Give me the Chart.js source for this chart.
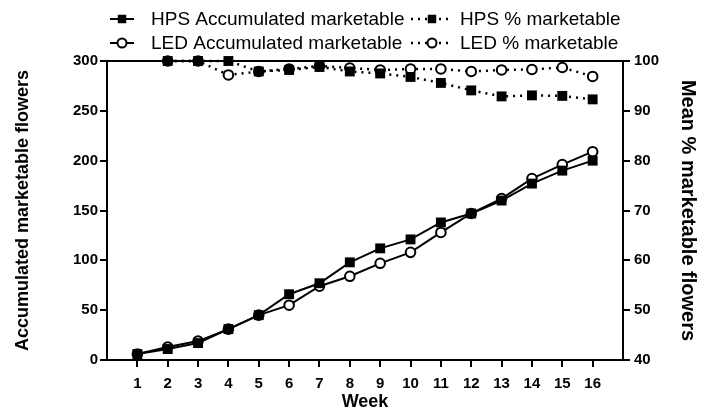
<!DOCTYPE html>
<html>
<head>
<meta charset="utf-8">
<script src="https://cdn.jsdelivr.net/npm/chart.js@4/dist/chart.umd.min.js"></script>
<style>
  html, body { margin: 0; padding: 0; background: #fff; }
  #wrap { width: 704px; height: 417px; }
</style>
</head>
<body>
<div id="wrap"><canvas id="chart" width="704" height="417"></canvas></div>
<script>
// Weekly flower counts under HPS and LED lighting
const weeks = [1, 2, 3, 4, 5, 6, 7, 8, 9, 10, 11, 12, 13, 14, 15, 16];
const hpsAccumulated = [6, 11, 17, 31, 45, 66, 77, 98, 112, 121, 138, 147, 160, 177, 190, 200];
const ledAccumulated = [6, 13, 19, 31, 45, 55, 74, 84, 97, 108, 128, 147, 162, 182, 196, 209];
const hpsPercent = [null, 100, 100, 100, 97.9, 98.2, 98.8, 97.9, 97.5, 96.8, 95.6, 94.1, 92.9, 93.1, 93.0, 92.3];
const ledPercent = [null, 100, 100, 97.2, 97.9, 98.4, 99.0, 98.6, 98.2, 98.4, 98.4, 97.9, 98.2, 98.3, 98.7, 96.9];
const leftTicks = [0, 50, 100, 150, 200, 250, 300];
const rightTicks = [40, 50, 60, 70, 80, 90, 100];

const FONT = "'Liberation Sans', Arial, Helvetica, sans-serif";

function points(values) {
  return weeks.map((w, i) => ({ x: w, y: values[i] }));
}

const solid = { borderColor: '#000', borderWidth: 2, pointBorderColor: '#000', pointBorderWidth: 2 };
const dotted = { borderColor: '#000', borderWidth: 2.5, borderDash: [2, 5], pointBorderColor: '#000', pointBorderWidth: 2 };
const square = { pointStyle: 'rect', pointRadius: 7, pointBackgroundColor: '#000', pointBorderWidth: 0 };
const circle = { pointStyle: 'circle', pointRadius: 4.8, pointBackgroundColor: '#fff' };

const datasets = [
  Object.assign({ label: 'HPS Accumulated marketable', data: points(hpsAccumulated), yAxisID: 'yLeft' }, solid, square),
  Object.assign({ label: 'HPS % marketable', data: points(hpsPercent), yAxisID: 'yRight' }, dotted, square),
  Object.assign({ label: 'LED Accumulated marketable', data: points(ledAccumulated), yAxisID: 'yLeft' }, solid, circle),
  Object.assign({ label: 'LED % marketable', data: points(ledPercent), yAxisID: 'yRight' }, dotted, circle)
];
datasets.forEach(d => { d.clip = false; d.tension = 0; d.fill = false; d.borderCapStyle = 'butt'; });

// Two-row legend with a line sample through each marker
const legendSlots = [
  { x0: 110, x1: 134, mx: 122, tx: 151, y: 19 },
  { x0: 411, x1: 449, mx: 432, tx: 460, y: 19 },
  { x0: 110, x1: 134, mx: 122, tx: 151, y: 43 },
  { x0: 411, x1: 449, mx: 432, tx: 460, y: 43 }
];
const legendPlugin = {
  id: 'twoRowLegend',
  afterDraw(chart) {
    const ctx = chart.ctx;
    ctx.save();
    chart.data.datasets.forEach((ds, i) => {
      const s = legendSlots[i];
      ctx.strokeStyle = '#000';
      ctx.lineWidth = ds.borderWidth;
      ctx.setLineDash(ds.borderDash || []);
      ctx.beginPath();
      ctx.moveTo(s.x0, s.y);
      ctx.lineTo(s.x1, s.y);
      ctx.stroke();
      ctx.setLineDash([]);
      ctx.fillStyle = ds.pointBackgroundColor;
      ctx.strokeStyle = '#000';
      ctx.lineWidth = ds.pointBorderWidth;
      ctx.beginPath();
      if (ds.pointStyle === 'rect') {
        const h = 6 * Math.SQRT1_2;
        ctx.rect(s.mx - h, s.y - h, 2 * h, 2 * h);
        ctx.fill();
      } else {
        ctx.arc(s.mx, s.y, 4.5, 0, Math.PI * 2);
        ctx.fill();
        ctx.stroke();
      }
      ctx.fillStyle = '#000';
      ctx.font = '19px ' + FONT;
      ctx.textBaseline = 'middle';
      ctx.textAlign = 'left';
      ctx.fillText(ds.label, s.tx, s.y + 0.5);
    });
    ctx.restore();
  }
};

const axisGrid = { drawOnChartArea: false, drawTicks: true, tickLength: 7, color: '#000', lineWidth: 2 };
const axisBorder = { display: true, color: '#000', width: 2 };
const tickFont = { family: FONT, size: 15, weight: 'bold' };

new Chart(document.getElementById('chart'), {
  type: 'line',
  data: { datasets },
  plugins: [legendPlugin],
  options: {
    responsive: false,
    animation: false,
    devicePixelRatio: 1,
    layout: { padding: { top: 61, left: 0, right: 0, bottom: 0 } },
    plugins: { legend: { display: false }, tooltip: { enabled: false } },
    scales: {
      x: {
        type: 'linear',
        position: 'bottom',
        min: 0,
        max: 17,
        afterBuildTicks: s => { s.ticks = weeks.map(v => ({ value: v })); },
        afterFit: s => { s.height = 57; },
        ticks: { font: tickFont, color: '#000', padding: 8, maxRotation: 0, autoSkip: false, callback: v => String(v) },
        grid: axisGrid,
        border: axisBorder,
        title: { display: true, text: 'Week', color: '#000', font: { family: FONT, size: 18, weight: 'bold' }, padding: { top: 0, bottom: 4 } }
      },
      xTop: {
        type: 'linear',
        position: 'top',
        min: 0,
        max: 17,
        afterFit: s => { s.height = 0; },
        ticks: { display: false },
        grid: { display: false, drawTicks: false },
        border: axisBorder
      },
      yLeft: {
        type: 'linear',
        position: 'left',
        min: 0,
        max: 300,
        afterBuildTicks: s => { s.ticks = leftTicks.map(v => ({ value: v })); },
        afterFit: s => { s.width = 107; },
        ticks: { font: tickFont, color: '#000', padding: 2 },
        grid: axisGrid,
        border: axisBorder,
        title: { display: true, text: 'Accumulated marketable flowers', color: '#000', font: { family: FONT, size: 18, weight: 'bold' }, padding: { top: 12, bottom: 0 } }
      },
      yRight: {
        type: 'linear',
        position: 'right',
        min: 40,
        max: 100,
        afterBuildTicks: s => { s.ticks = rightTicks.map(v => ({ value: v })); },
        afterFit: s => { s.width = 81; },
        ticks: { font: tickFont, color: '#000', padding: 4 },
        grid: axisGrid,
        border: axisBorder,
        title: { display: true, text: 'Mean % marketable flowers', color: '#000', font: { family: FONT, size: 20, weight: 'bold' }, padding: { top: 4, bottom: 0 } }
      }
    }
  }
});
</script>
</body>
</html>
